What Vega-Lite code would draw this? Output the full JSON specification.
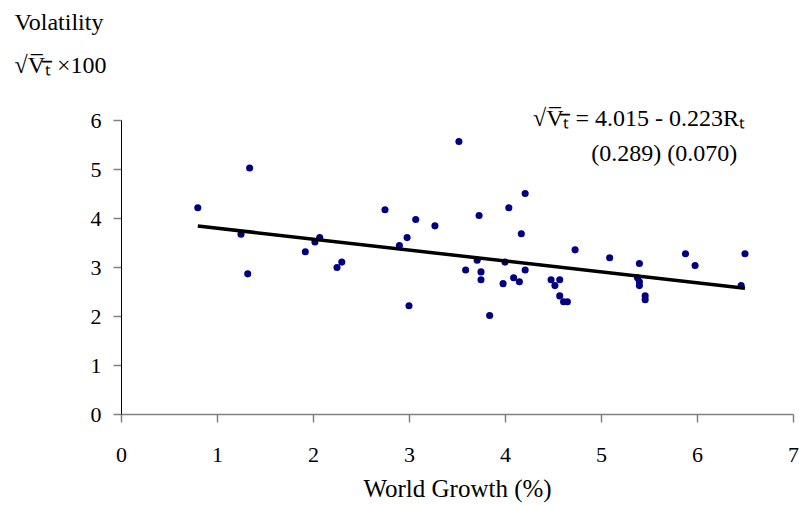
{
  "$schema": "https://vega.github.io/schema/vega-lite/v6.json",
  "width": 672,
  "height": 294,
  "autosize": {"type": "none"},
  "padding": {"left": 121, "top": 120, "right": 6, "bottom": 91},
  "background": "white",
  "config": {"view": {"stroke": null}, "font": "Liberation Serif"},
  "encoding": {
    "x": {
      "field": "growth", "type": "quantitative",
      "scale": {"domain": [0, 7], "nice": false, "zero": false},
      "axis": {
        "values": [0, 1, 2, 3, 4, 5, 6, 7], "grid": false, "labelFlush": false, "labelOverlap": false,
        "domainColor": "#808080", "domainWidth": 1.5, "tickColor": "#808080", "tickWidth": 1.5, "tickSize": 8,
        "labelFont": "Liberation Serif", "labelFontSize": 22, "labelColor": "black",
        "labelBaseline": "alphabetic", "labelPadding": 39,
        "title": "World Growth (%)", "titleFont": "Liberation Serif", "titleFontSize": 25,
        "titleFontWeight": "normal", "titleColor": "black", "titleBaseline": "alphabetic", "titleY": 82
      }
    },
    "y": {
      "field": "vol", "type": "quantitative",
      "scale": {"domain": [0, 6], "nice": false},
      "axis": {
        "values": [0, 1, 2, 3, 4, 5, 6], "grid": false,
        "domainColor": "black", "domainWidth": 1, "tickColor": "#808080", "tickWidth": 1.5, "tickSize": 8,
        "labelFont": "Liberation Serif", "labelFontSize": 22, "labelColor": "black", "labelPadding": 12,
        "title": ["Volatility", "√V̅ₜ̅  ×100"], "titleFont": "Liberation Serif", "titleFontSize": 24,
        "titleFontWeight": "normal", "titleColor": "black", "titleAngle": 0, "titleAlign": "left",
        "titleBaseline": "alphabetic", "titleX": -107, "titleY": -91, "titleLineHeight": 43
      }
    }
  },
  "layer": [
    {
      "data": {"values": [
        {"growth": 0.80, "vol": 4.21}, {"growth": 1.25, "vol": 3.67}, {"growth": 1.32, "vol": 2.86},
        {"growth": 1.34, "vol": 5.02}, {"growth": 1.92, "vol": 3.31}, {"growth": 2.02, "vol": 3.51},
        {"growth": 2.07, "vol": 3.60}, {"growth": 2.25, "vol": 2.99}, {"growth": 2.30, "vol": 3.10},
        {"growth": 2.75, "vol": 4.17}, {"growth": 2.90, "vol": 3.44}, {"growth": 2.98, "vol": 3.60},
        {"growth": 3.00, "vol": 2.21}, {"growth": 3.07, "vol": 3.97}, {"growth": 3.27, "vol": 3.84},
        {"growth": 3.52, "vol": 5.56}, {"growth": 3.59, "vol": 2.94}, {"growth": 3.71, "vol": 3.14},
        {"growth": 3.73, "vol": 4.05}, {"growth": 3.75, "vol": 2.90}, {"growth": 3.75, "vol": 2.74},
        {"growth": 3.84, "vol": 2.01}, {"growth": 3.98, "vol": 2.66}, {"growth": 4.00, "vol": 3.10},
        {"growth": 4.04, "vol": 4.21}, {"growth": 4.09, "vol": 2.78}, {"growth": 4.15, "vol": 2.70},
        {"growth": 4.17, "vol": 3.68}, {"growth": 4.21, "vol": 4.50}, {"growth": 4.21, "vol": 2.94},
        {"growth": 4.48, "vol": 2.74}, {"growth": 4.52, "vol": 2.62}, {"growth": 4.57, "vol": 2.74},
        {"growth": 4.57, "vol": 2.41}, {"growth": 4.61, "vol": 2.29}, {"growth": 4.65, "vol": 2.29},
        {"growth": 4.73, "vol": 3.35}, {"growth": 5.09, "vol": 3.19}, {"growth": 5.40, "vol": 3.07},
        {"growth": 5.38, "vol": 2.78}, {"growth": 5.40, "vol": 2.70}, {"growth": 5.40, "vol": 2.62},
        {"growth": 5.46, "vol": 2.41}, {"growth": 5.46, "vol": 2.33}, {"growth": 5.88, "vol": 3.27},
        {"growth": 5.98, "vol": 3.03}, {"growth": 6.46, "vol": 2.62}, {"growth": 6.50, "vol": 3.27}
      ]},
      "mark": {"type": "circle", "color": "#000080", "opacity": 1, "size": 50}
    },
    {
      "data": {"values": [{"growth": 0.8, "vol": 3.837}, {"growth": 6.5, "vol": 2.565}]},
      "mark": {"type": "line", "color": "black", "strokeWidth": 3.5}
    },
    {
      "data": {"values": [
        {"growth": 6.5, "vol": 5.88, "label": "√V̅ₜ̅ =  4.015 - 0.223Rₜ"},
        {"growth": 6.42, "vol": 5.16, "label": "(0.289) (0.070)"}
      ]},
      "mark": {"type": "text", "align": "right", "baseline": "alphabetic", "font": "Liberation Serif", "fontSize": 24, "color": "black"},
      "encoding": {"text": {"field": "label", "type": "nominal"}}
    }
  ]
}
